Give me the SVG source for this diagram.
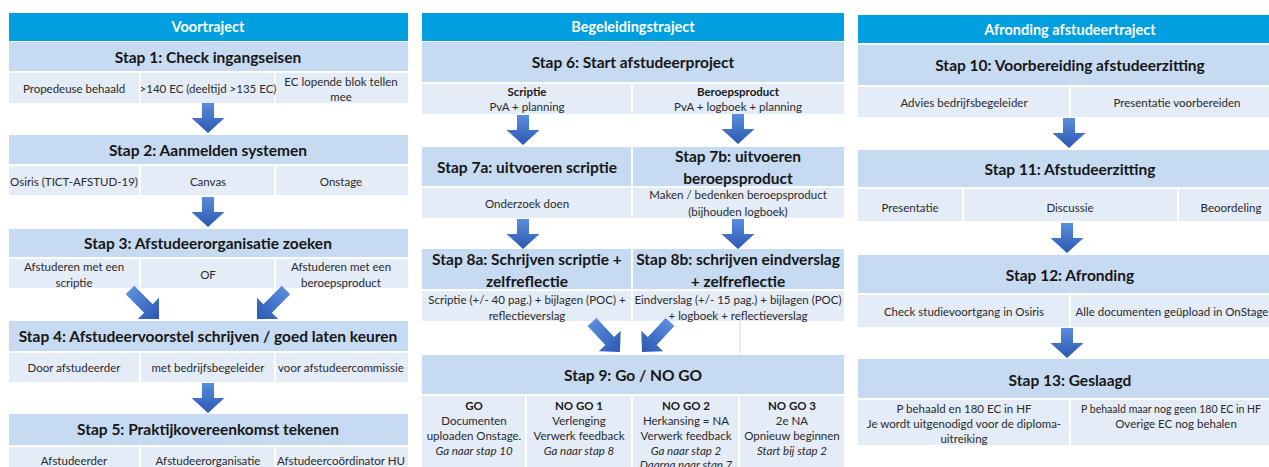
<svg xmlns="http://www.w3.org/2000/svg" width="1269" height="467" viewBox="0 0 1269 467">
<style>
.hdr{fill:#009FDF}
.band{fill:#C6DAF1}
.cell{fill:#E4ECF7}
text{font-family:Lato,"Open Sans","Liberation Sans",sans-serif;text-anchor:middle;dominant-baseline:central}
.ht{font-size:14.5px;font-weight:bold;fill:#FFFFFF}
.st{font-size:15.5px;font-weight:bold;fill:#161616}
.ct{font-size:11.5px;fill:#2A2A2A}
.cb{font-size:11.5px;font-weight:bold;fill:#1A1A1A}
.ci{font-size:11.5px;font-style:italic;fill:#2A2A2A}
.arr{fill:url(#ag)}
</style>
<defs>
<linearGradient id="ag" x1="0" y1="0" x2="0" y2="1">
<stop offset="0" stop-color="#5A8DDD"/>
<stop offset="1" stop-color="#2C58B2"/>
</linearGradient>
<path id="down" d="M-6,0 H6 V15 H16.5 L0,30 L-16.5,15 H-6 Z"/>
<path id="diag" d="M-6,0 H6 V26 H15 L0,41 L-15,26 H-6 Z"/>
</defs>
<rect width="1269" height="467" fill="#FFFFFF"/>

<!-- Column 1: Voortraject -->
<g id="voortraject">
<rect class="hdr" x="9" y="13" width="399" height="28"/>
<text class="ht" x="208" y="26">Voortraject</text>
</g>
<g id="stap1">
<rect class="band" x="9" y="42" width="399" height="29"/>
<text class="st" x="208" y="57">Stap 1: Check ingangseisen</text>
<rect class="cell" x="9" y="73" width="130" height="30"/>
<rect class="cell" x="141" y="73" width="133" height="30"/>
<rect class="cell" x="276" y="73" width="132" height="30"/>
<text class="ct" x="74" y="88">Propedeuse behaald</text>
<text class="ct" x="208" y="88">&gt;140 EC (deeltijd &gt;135 EC)</text>
<text class="ct" x="341" y="81">EC lopende blok tellen</text>
<text class="ct" x="341" y="96">mee</text>
</g>
<g id="stap2">
<rect class="band" x="9" y="135" width="399" height="29"/>
<text class="st" x="208" y="150">Stap 2: Aanmelden systemen</text>
<rect class="cell" x="9" y="166" width="130" height="29"/>
<rect class="cell" x="141" y="166" width="133" height="29"/>
<rect class="cell" x="276" y="166" width="132" height="29"/>
<text class="ct" x="74" y="181">Osiris (TICT-AFSTUD-19)</text>
<text class="ct" x="208" y="181">Canvas</text>
<text class="ct" x="341" y="181">Onstage</text>
</g>
<g id="stap3">
<rect class="band" x="9" y="229" width="399" height="28"/>
<text class="st" x="208" y="243">Stap 3: Afstudeerorganisatie zoeken</text>
<rect class="cell" x="9" y="259" width="130" height="29"/>
<rect class="cell" x="141" y="259" width="133" height="29"/>
<rect class="cell" x="276" y="259" width="132" height="29"/>
<text class="ct" x="74" y="266">Afstuderen met een</text>
<text class="ct" x="74" y="282">scriptie</text>
<text class="ct" x="208" y="274">OF</text>
<text class="ct" x="341" y="266">Afstuderen met een</text>
<text class="ct" x="341" y="282">beroepsproduct</text>
</g>
<g id="stap4">
<rect class="band" x="9" y="321" width="399" height="30"/>
<text class="st" x="208" y="336">Stap 4: Afstudeervoorstel schrijven / goed laten keuren</text>
<rect class="cell" x="9" y="353" width="130" height="29"/>
<rect class="cell" x="141" y="353" width="133" height="29"/>
<rect class="cell" x="276" y="353" width="132" height="29"/>
<text class="ct" x="74" y="367">Door afstudeerder</text>
<text class="ct" x="208" y="367">met bedrijfsbegeleider</text>
<text class="ct" x="341" y="367">voor afstudeercommissie</text>
</g>
<g id="stap5">
<rect class="band" x="9" y="414" width="399" height="31"/>
<text class="st" x="208" y="429">Stap 5: Praktijkovereenkomst tekenen</text>
<rect class="cell" x="9" y="447" width="130" height="25"/>
<rect class="cell" x="141" y="447" width="133" height="25"/>
<rect class="cell" x="276" y="447" width="132" height="25"/>
<text class="ct" x="74" y="460">Afstudeerder</text>
<text class="ct" x="208" y="460">Afstudeerorganisatie</text>
<text class="ct" x="341" y="460">Afstudeercoördinator HU</text>
</g>

<!-- Column 2: Begeleidingstraject -->
<g id="begeleidingstraject">
<rect class="hdr" x="422" y="13" width="422" height="28"/>
<text class="ht" x="633" y="26">Begeleidingstraject</text>
</g>
<g id="stap6">
<rect class="band" x="422" y="42" width="422" height="40"/>
<text class="st" x="633" y="62">Stap 6: Start afstudeerproject</text>
<rect class="cell" x="422" y="84" width="209" height="30"/>
<rect class="cell" x="633" y="84" width="211" height="30"/>
<text class="cb" x="527" y="91">Scriptie</text>
<text class="ct" x="527" y="106">PvA + planning</text>
<text class="cb" x="738" y="91">Beroepsproduct</text>
<text class="ct" x="738" y="106">PvA + logboek + planning</text>
</g>
<g id="stap7a">
<rect class="band" x="422" y="147" width="209" height="39"/>
<text class="st" x="527" y="167">Stap 7a: uitvoeren scriptie</text>
<rect class="cell" x="422" y="188" width="209" height="30"/>
<text class="ct" x="527" y="203">Onderzoek doen</text>
</g>
<g id="stap7b">
<rect class="band" x="633" y="147" width="211" height="39"/>
<text class="st" x="738" y="156">Stap 7b: uitvoeren</text>
<text class="st" x="738" y="178">beroepsproduct</text>
<rect class="cell" x="633" y="188" width="211" height="30"/>
<text class="ct" x="738" y="194">Maken / bedenken beroepsproduct</text>
<text class="ct" x="738" y="211">(bijhouden logboek)</text>
</g>
<g id="stap8a">
<rect class="band" x="422" y="249" width="209" height="40"/>
<text class="st" x="527" y="259">Stap 8a: Schrijven scriptie +</text>
<text class="st" x="527" y="281">zelfreflectie</text>
<rect class="cell" x="422" y="291" width="209" height="30"/>
<text class="ct" x="527" y="299">Scriptie (+/- 40 pag.) + bijlagen (POC) +</text>
<text class="ct" x="527" y="315">reflectieverslag</text>
</g>
<g id="stap8b">
<rect class="band" x="633" y="249" width="211" height="40"/>
<text class="st" x="738" y="259">Stap 8b: schrijven eindverslag</text>
<text class="st" x="738" y="281">+ zelfreflectie</text>
<rect class="cell" x="633" y="291" width="211" height="30"/>
<text class="ct" x="738" y="299">Eindverslag (+/- 15 pag.) + bijlagen (POC)</text>
<text class="ct" x="738" y="315">+ logboek + reflectieverslag</text>
</g>
<line x1="740" y1="321" x2="740" y2="353" stroke="#D6D6D6" stroke-width="1"/>
<g id="stap9">
<rect class="band" x="422" y="355" width="422" height="39"/>
<text class="st" x="633" y="375">Stap 9: Go / NO GO</text>
<rect class="cell" x="422" y="396" width="103" height="75"/>
<rect class="cell" x="527" y="396" width="104" height="75"/>
<rect class="cell" x="633" y="396" width="105" height="75"/>
<rect class="cell" x="740" y="396" width="104" height="75"/>
<text class="cb" x="474" y="405">GO</text>
<text class="ct" x="474" y="420">Documenten</text>
<text class="ct" x="474" y="435">uploaden Onstage.</text>
<text class="ci" x="474" y="450">Ga naar stap 10</text>
<text class="cb" x="579" y="405">NO GO 1</text>
<text class="ct" x="579" y="420">Verlenging</text>
<text class="ct" x="579" y="435">Verwerk feedback</text>
<text class="ci" x="579" y="450">Ga naar stap 8</text>
<text class="cb" x="686" y="405">NO GO 2</text>
<text class="ct" x="686" y="420">Herkansing = NA</text>
<text class="ct" x="686" y="435">Verwerk feedback</text>
<text class="ci" x="686" y="450">Ga naar stap 2</text>
<text class="ci" x="686" y="464">Daarna naar stap 7</text>
<text class="cb" x="792" y="405">NO GO 3</text>
<text class="ct" x="792" y="420">2e NA</text>
<text class="ct" x="792" y="435">Opnieuw beginnen</text>
<text class="ci" x="792" y="450">Start bij stap 2</text>
</g>

<!-- Column 3: Afronding afstudeertraject -->
<g id="afronding">
<rect class="hdr" x="858" y="15" width="425" height="28"/>
<text class="ht" x="1070" y="29">Afronding afstudeertraject</text>
</g>
<g id="stap10">
<rect class="band" x="858" y="45" width="425" height="40"/>
<text class="st" x="1070" y="65">Stap 10: Voorbereiding afstudeerzitting</text>
<rect class="cell" x="858" y="87" width="211" height="30"/>
<rect class="cell" x="1071" y="87" width="212" height="30"/>
<text class="ct" x="964" y="102">Advies bedrijfsbegeleider</text>
<text class="ct" x="1177" y="102">Presentatie voorbereiden</text>
</g>
<g id="stap11">
<rect class="band" x="858" y="150" width="425" height="37"/>
<text class="st" x="1070" y="169">Stap 11: Afstudeerzitting</text>
<rect class="cell" x="858" y="189" width="104" height="32"/>
<rect class="cell" x="964" y="189" width="213" height="32"/>
<rect class="cell" x="1179" y="189" width="104" height="32"/>
<text class="ct" x="910" y="207">Presentatie</text>
<text class="ct" x="1070" y="207">Discussie</text>
<text class="ct" x="1231" y="207">Beoordeling</text>
</g>
<g id="stap12">
<rect class="band" x="858" y="255" width="425" height="38"/>
<text class="st" x="1070" y="275">Stap 12: Afronding</text>
<rect class="cell" x="858" y="295" width="211" height="32"/>
<rect class="cell" x="1071" y="295" width="212" height="32"/>
<text class="ct" x="964" y="311">Check studievoortgang in Osiris</text>
<text class="ct" x="1172" y="311">Alle documenten geüpload in OnStage</text>
</g>
<g id="stap13">
<rect class="band" x="858" y="359" width="425" height="39"/>
<text class="st" x="1070" y="380">Stap 13: Geslaagd</text>
<rect class="cell" x="858" y="400" width="211" height="45"/>
<rect class="cell" x="1071" y="400" width="212" height="45"/>
<text class="ct" x="964" y="408">P behaald en 180 EC in HF</text>
<text class="ct" x="964" y="423">Je wordt uitgenodigd voor de diploma-</text>
<text class="ct" x="964" y="438">uitreiking</text>
<text class="ct" x="1171" y="408" textLength="180" lengthAdjust="spacingAndGlyphs">P behaald maar nog geen 180 EC in HF</text>
<text class="ct" x="1176" y="423">Overige EC nog behalen</text>
</g>

<!-- Connectors -->
<g id="connectors">
<use href="#down" class="arr" x="208" y="103"/>
<use href="#down" class="arr" x="208" y="197"/>
<use href="#diag" class="arr" transform="translate(130,290) rotate(-45)"/>
<use href="#diag" class="arr" transform="translate(286,290) rotate(45)"/>
<use href="#down" class="arr" x="208" y="383"/>
<use href="#down" class="arr" x="523" y="115"/>
<use href="#down" class="arr" x="738" y="114"/>
<use href="#down" class="arr" x="523" y="219"/>
<use href="#down" class="arr" x="738" y="219"/>
<use href="#diag" class="arr" transform="translate(592,322) rotate(-43)"/>
<use href="#diag" class="arr" transform="translate(670,322) rotate(43)"/>
<use href="#down" class="arr" x="1069" y="118"/>
<use href="#down" class="arr" x="1067" y="223"/>
<use href="#down" class="arr" x="1067" y="328"/>
</g>
</svg>
